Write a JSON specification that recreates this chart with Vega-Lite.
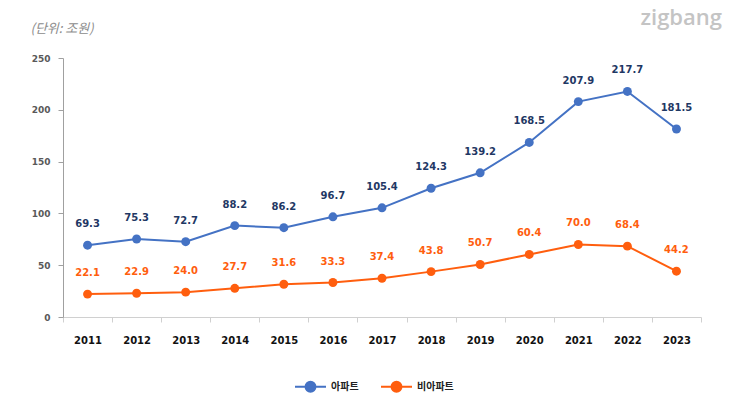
{
  "$schema": "https://vega.github.io/schema/vega-lite/v6.json",
  "autosize": {"type": "none"},
  "padding": {"left": 63, "top": 58, "right": 29, "bottom": 77},
  "width": 638,
  "height": 259,
  "background": "white",
  "title": {
    "text": "zigbang",
    "anchor": "end",
    "frame": "group",
    "dx": 21,
    "offset": -8,
    "fontSize": 22,
    "font": "Open Sans",
    "fontWeight": 600,
    "color": "#C4C4C4"
  },
  "config": {
    "view": {"stroke": null},
    "font": "DejaVu Sans"
  },
  "data": {
    "values": [
      {"year": "2011", "type": "아파트", "value": 69.3},
      {"year": "2012", "type": "아파트", "value": 75.3},
      {"year": "2013", "type": "아파트", "value": 72.7},
      {"year": "2014", "type": "아파트", "value": 88.2},
      {"year": "2015", "type": "아파트", "value": 86.2},
      {"year": "2016", "type": "아파트", "value": 96.7},
      {"year": "2017", "type": "아파트", "value": 105.4},
      {"year": "2018", "type": "아파트", "value": 124.3},
      {"year": "2019", "type": "아파트", "value": 139.2},
      {"year": "2020", "type": "아파트", "value": 168.5},
      {"year": "2021", "type": "아파트", "value": 207.9},
      {"year": "2022", "type": "아파트", "value": 217.7},
      {"year": "2023", "type": "아파트", "value": 181.5},
      {"year": "2011", "type": "비아파트", "value": 22.1},
      {"year": "2012", "type": "비아파트", "value": 22.9},
      {"year": "2013", "type": "비아파트", "value": 24.0},
      {"year": "2014", "type": "비아파트", "value": 27.7},
      {"year": "2015", "type": "비아파트", "value": 31.6},
      {"year": "2016", "type": "비아파트", "value": 33.3},
      {"year": "2017", "type": "비아파트", "value": 37.4},
      {"year": "2018", "type": "비아파트", "value": 43.8},
      {"year": "2019", "type": "비아파트", "value": 50.7},
      {"year": "2020", "type": "비아파트", "value": 60.4},
      {"year": "2021", "type": "비아파트", "value": 70.0},
      {"year": "2022", "type": "비아파트", "value": 68.4},
      {"year": "2023", "type": "비아파트", "value": 44.2}
    ]
  },
  "encoding": {
    "x": {
      "field": "year",
      "type": "ordinal",
      "scale": {"type": "band", "paddingInner": 0, "paddingOuter": 0},
      "axis": {
        "title": null,
        "labelAngle": 0,
        "tickBand": "extent",
        "domainColor": "#D0D0D0",
        "tickColor": "#D0D0D0",
        "tickSize": 5,
        "labelPadding": 13,
        "labelFontSize": 10,
        "labelFontWeight": "bold",
        "labelColor": "#111111"
      }
    },
    "y": {
      "field": "value",
      "type": "quantitative",
      "scale": {"domain": [0, 250]},
      "axis": {
        "values": [0, 50, 100, 150, 200, 250],
        "grid": false,
        "title": "(단위: 조원)",
        "titleAngle": 0,
        "titleX": -33,
        "titleY": -30,
        "titleAlign": "left",
        "titleBaseline": "middle",
        "titleFontStyle": "italic",
        "titleFontWeight": "normal",
        "titleFont": "Noto Sans CJK KR",
        "titleFontSize": 13,
        "titleColor": "#8C8C8C",
        "domainColor": "#A0A0A0",
        "tickColor": "#A0A0A0",
        "tickSize": 5,
        "labelPadding": 8,
        "labelFontSize": 9,
        "labelFontWeight": "bold",
        "labelColor": "#595959"
      }
    }
  },
  "layer": [
    {
      "mark": {"type": "line", "strokeWidth": 2, "point": {"size": 80, "filled": true, "opacity": 1}},
      "encoding": {
        "color": {
          "field": "type",
          "type": "nominal",
          "scale": {"domain": ["아파트", "비아파트"], "range": ["#4472C4", "#FF5E0E"]},
          "legend": {
            "title": null,
            "orient": "none",
            "legendX": 231,
            "legendY": 312,
            "direction": "horizontal",
            "symbolType": "M -1 0 L 1 0 M 0.32 0 A 0.32 0.32 0 1 1 -0.32 0 A 0.32 0.32 0 1 1 0.32 0 Z",
            "symbolSize": 961,
            "symbolStrokeWidth": 2,
            "labelFont": "Noto Sans CJK KR",
            "labelFontWeight": "bold",
            "labelFontSize": 10,
            "labelColor": "#222222",
            "labelOffset": 4,
            "columnPadding": 18,
            "symbolOffset": 0
          }
        }
      }
    },
    {
      "mark": {"type": "text", "dy": -21, "fontSize": 10, "fontWeight": "bold"},
      "encoding": {
        "text": {"field": "value", "type": "quantitative", "format": ".1f"},
        "color": {
          "field": "type",
          "type": "nominal",
          "scale": {"domain": ["아파트", "비아파트"], "range": ["#1F3864", "#FF5E0E"]},
          "legend": null
        }
      }
    }
  ],
  "resolve": {"scale": {"color": "independent"}}
}
